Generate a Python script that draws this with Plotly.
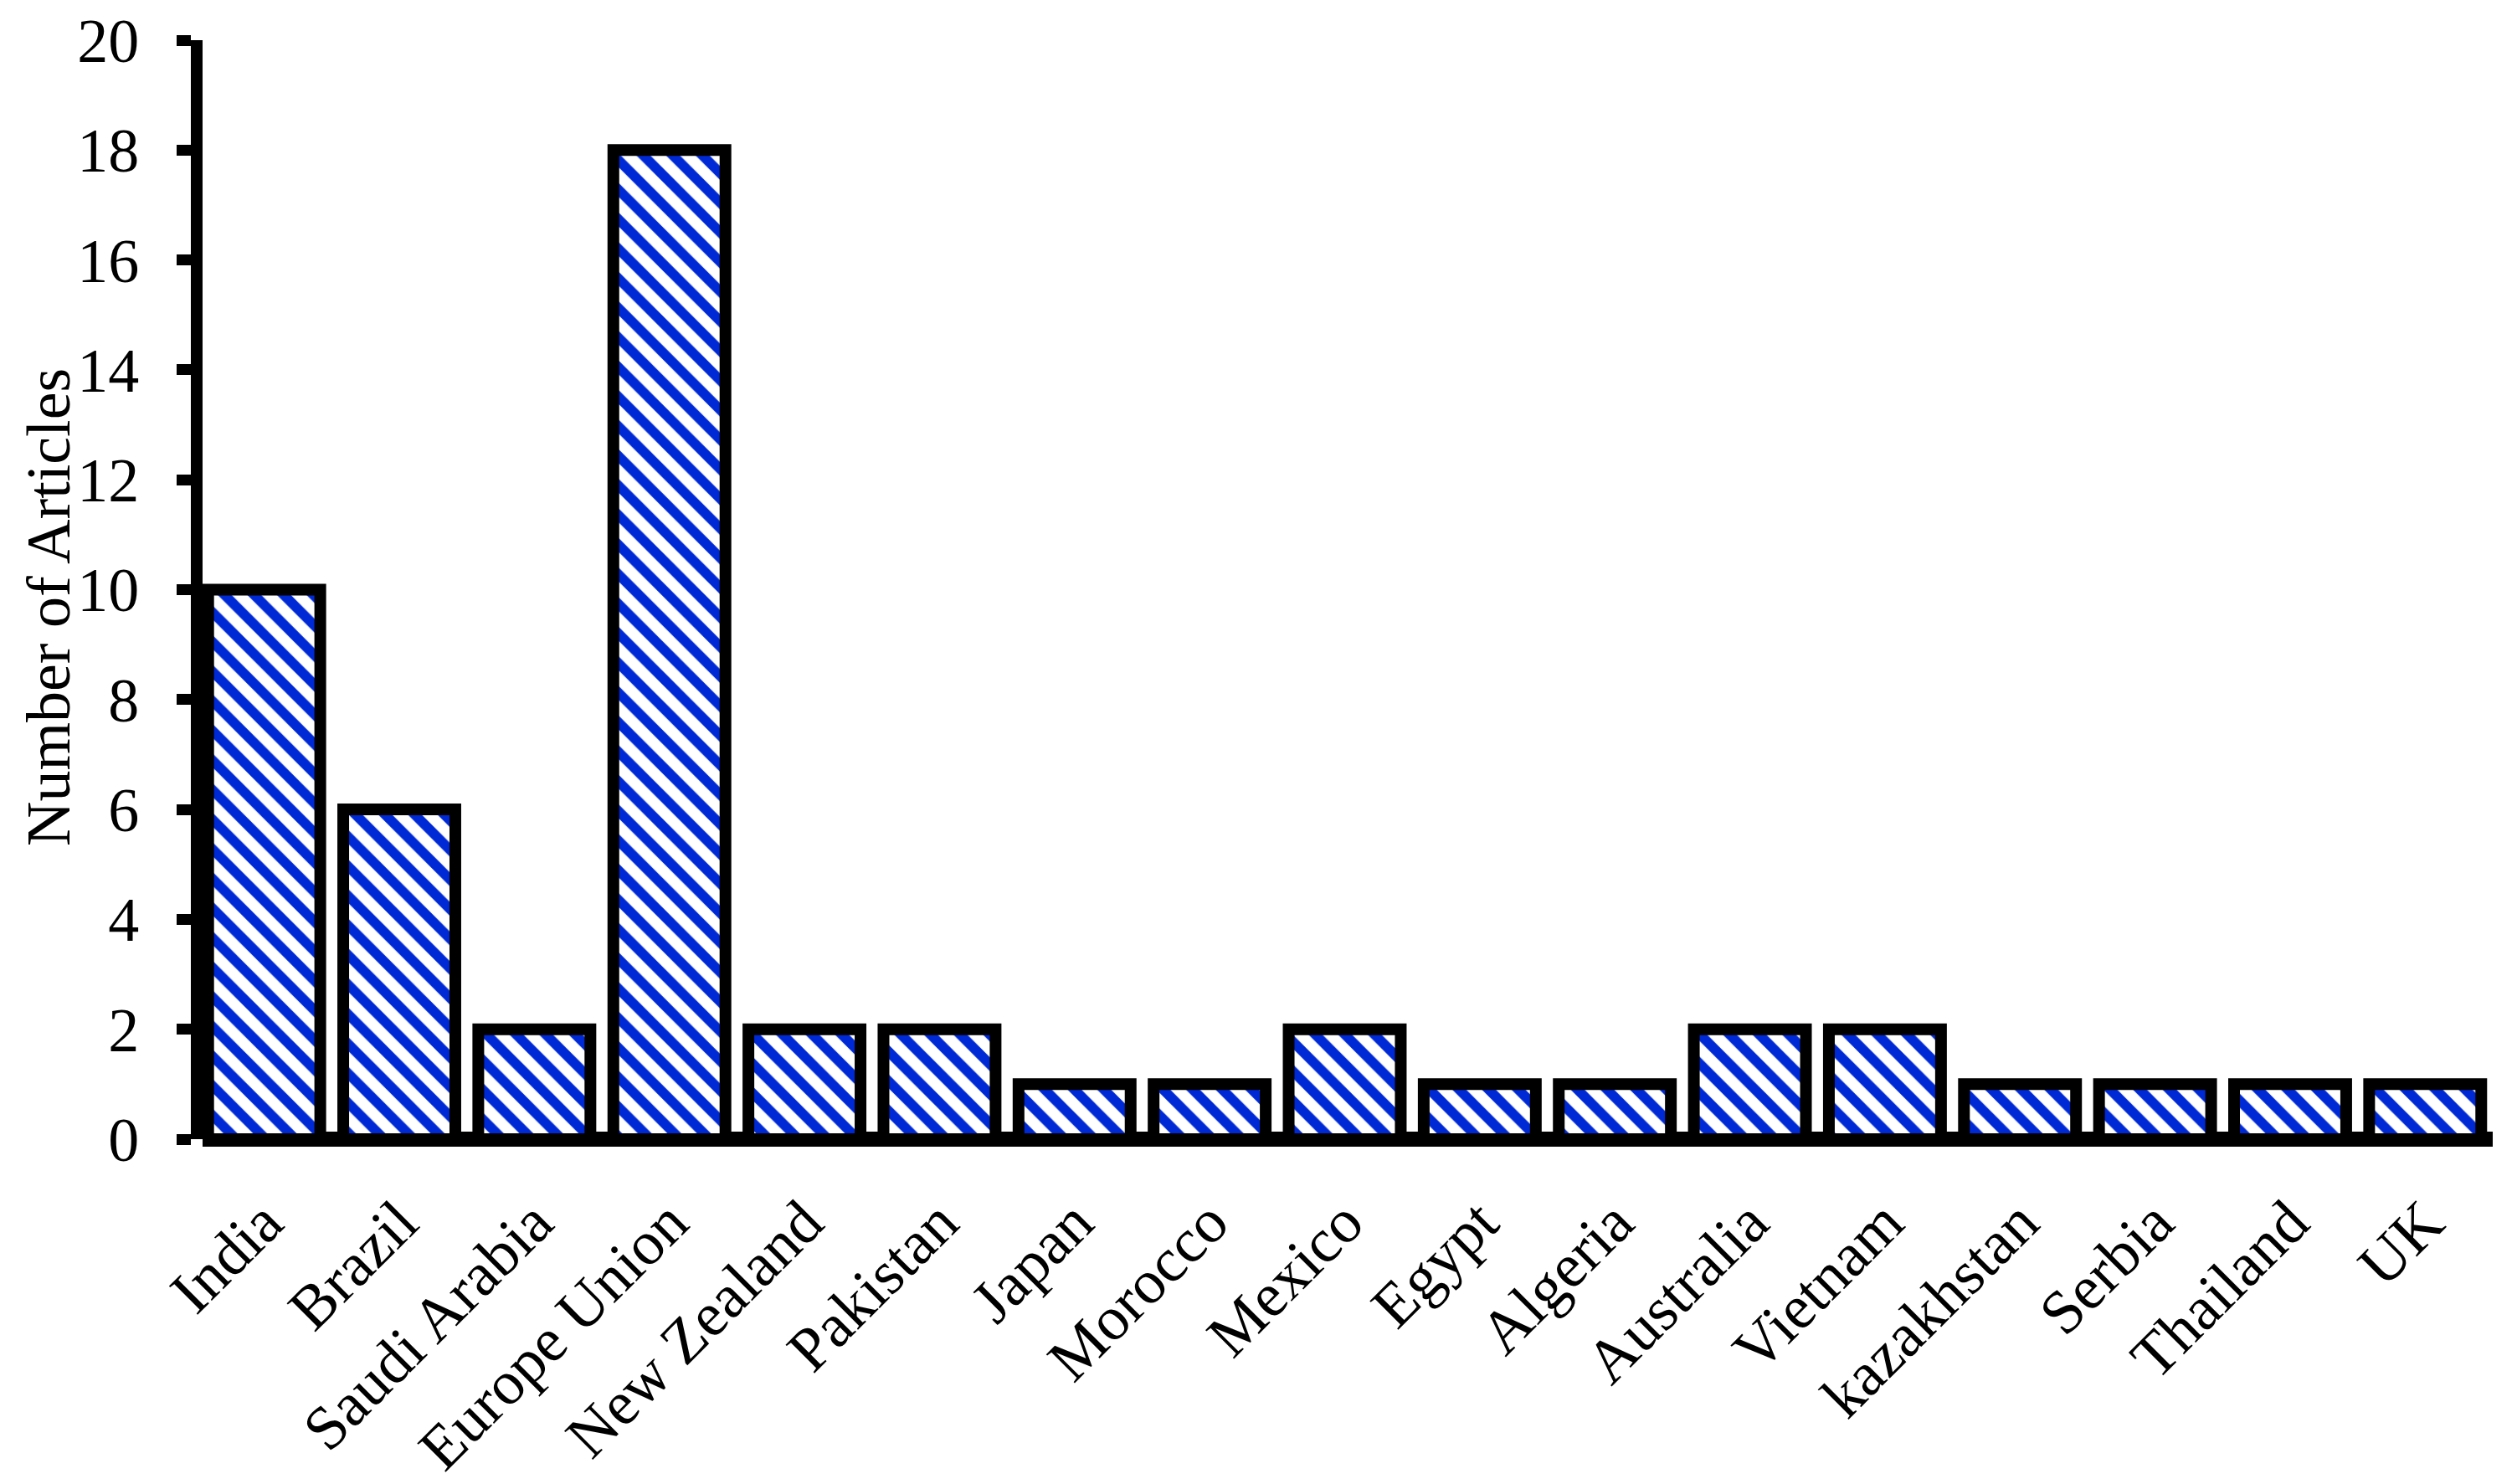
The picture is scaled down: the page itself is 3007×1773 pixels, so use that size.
import plotly.graph_objects as go

countries = ["India", "Brazil", "Saudi Arabia", "Europe Union", "New Zealand", "Pakistan",
             "Japan", "Morocco", "Mexico", "Egypt", "Algeria", "Australia", "Vietnam",
             "kazakhstan", "Serbia", "Thailand", "UK"]
articles = [10, 6, 2, 18, 2, 2, 1, 1, 2, 1, 1, 2, 2, 1, 1, 1, 1]
y_ticks = [0, 2, 4, 6, 8, 10, 12, 14, 16, 18, 20]

FONT = "Palatino Linotype, Book Antiqua, Palatino, Liberation Serif, serif"
BLUE = "#0029D6"
FS = 74

W, H = 3007, 1773
ML, MR, MT, MB = 242, 29, 48, 412

fig = go.Figure(go.Bar(
    x=countries,
    y=articles,
    marker=dict(
        color="white",
        line=dict(color="black", width=14),
        pattern=dict(shape="\\", fgcolor=BLUE, bgcolor="white", size=25,
                     solidity=0.47, fillmode="replace"),
    ),
))

fig.update_layout(
    width=W, height=H,
    margin=dict(l=ML, r=MR, t=MT, b=MB),
    paper_bgcolor="white", plot_bgcolor="white",
    bargap=0.17,
    showlegend=False,
    font=dict(family=FONT, size=FS, color="black"),
)

fig.update_xaxes(
    type="category", automargin=False,
    range=[-0.4565, 16.5],
    showline=False,
    ticks="", showgrid=False, zeroline=False,
    tickangle=-45,
    tickfont=dict(family=FONT, size=FS, color="black"),
    ticklabelstandoff=40,
)

fig.update_yaxes(
    range=[0, 20], automargin=False,
    tickvals=y_ticks,
    showline=True, linecolor="black", linewidth=14,
    ticks="outside", ticklen=17, tickwidth=13, tickcolor="black",
    showgrid=False,
    zeroline=True, zerolinecolor="black", zerolinewidth=18,
    tickfont=dict(family=FONT, size=FS, color="black"),
    ticklabelstandoff=30,
)

# y-axis title placed as a rotated annotation
plot_w = W - ML - MR
plot_h = H - MT - MB
fig.add_annotation(
    text="Number of Articles", textangle=-90,
    xref="paper", yref="paper",
    x=(58 - ML) / plot_w, y=(H - MB - 726) / plot_h,
    xanchor="center", yanchor="middle", showarrow=False,
    font=dict(family=FONT, size=FS, color="black"),
)

fig.write_html("out.html", config={"displayModeBar": False},
               post_script="document.body.style.margin='0px';")
